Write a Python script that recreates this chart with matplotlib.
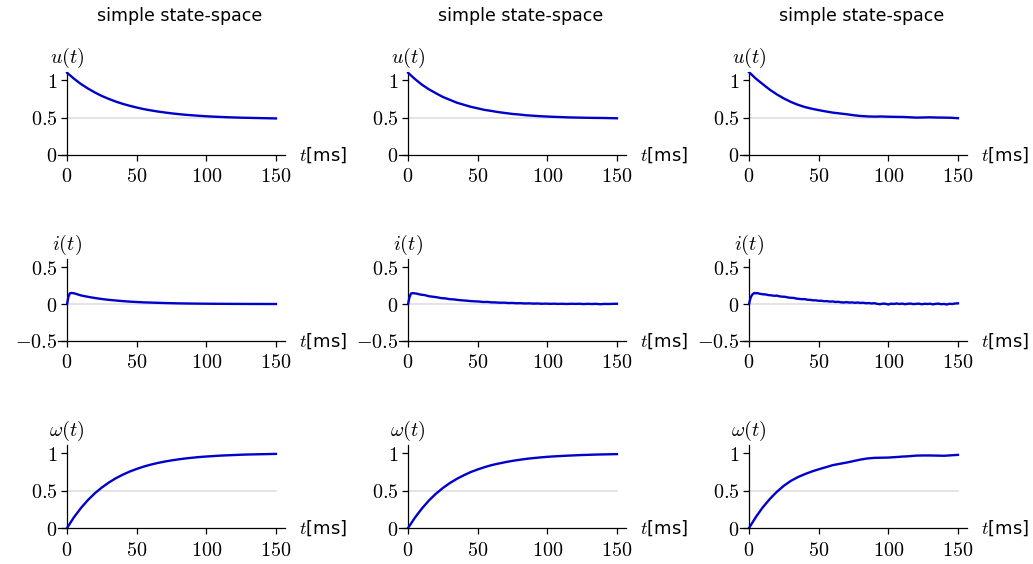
import numpy as np
import matplotlib
matplotlib.use("Agg")
import matplotlib.pyplot as plt

plt.rcParams['mathtext.fontset'] = 'cm'
plt.rcParams['font.family'] = ['DejaVu Sans']

# time grids (ms)
t5 = np.arange(0, 151, 5)
t_i1 = [0, 1, 2, 3, 5, 10, 15, 20, 25, 30, 35, 40, 45, 50, 55, 60,
        70, 80, 90, 100, 110, 120, 130, 140, 150]
t_i2 = [0, 1, 2] + list(range(3, 151, 3))
t_i3 = [0, 1, 2, 3, 4, 5, 6] + list(range(8, 151, 2))

# column 1 (smooth)
u1 = [1.10, 1.02, 0.949, 0.889, 0.836, 0.789, 0.750, 0.714, 0.684, 0.658,
      0.635, 0.614, 0.597, 0.582, 0.569, 0.557, 0.547, 0.538, 0.531, 0.524,
      0.518, 0.513, 0.509, 0.505, 0.502, 0.499, 0.497, 0.495, 0.493, 0.491, 0.489]
i1 = [0.0, 0.10, 0.145, 0.15, 0.146, 0.117, 0.098, 0.082, 0.068, 0.057,
      0.048, 0.040, 0.033, 0.028, 0.023, 0.020, 0.014, 0.0095, 0.0067,
      0.0047, 0.0033, 0.0023, 0.0016, 0.0011, 0.0008]
w1 = [0.0, 0.145, 0.268, 0.374, 0.465, 0.542, 0.608, 0.665, 0.713, 0.755,
      0.790, 0.821, 0.847, 0.869, 0.888, 0.904, 0.918, 0.930, 0.940, 0.949,
      0.956, 0.962, 0.968, 0.972, 0.976, 0.980, 0.983, 0.985, 0.987, 0.989, 0.991]

# column 2 (light noise)
u2 = [1.10, 1.015, 0.94, 0.878, 0.826, 0.776, 0.738, 0.700, 0.672, 0.645,
      0.624, 0.603, 0.589, 0.573, 0.561, 0.549, 0.541, 0.531, 0.525, 0.519,
      0.514, 0.510, 0.507, 0.503, 0.501, 0.499, 0.497, 0.496, 0.495, 0.493, 0.491]
i2 = [0.0, 0.09, 0.14,
      0.148, 0.142, 0.128, 0.121, 0.106, 0.099, 0.091, 0.080, 0.076, 0.066,
      0.063, 0.055, 0.050, 0.046, 0.040, 0.037, 0.034, 0.028, 0.029, 0.023,
      0.022, 0.018, 0.019, 0.014, 0.015, 0.011, 0.012, 0.008, 0.010, 0.006,
      0.008, 0.004, 0.006, 0.003, 0.005, 0.002, 0.004, 0.001, 0.004, 0.002,
      0.004, 0.000, 0.003, 0.001, 0.003, -0.002, 0.002, 0.001, 0.003, 0.004]
w2 = [0.0, 0.14, 0.262, 0.368, 0.458, 0.535, 0.601, 0.657, 0.705, 0.748,
      0.783, 0.814, 0.841, 0.862, 0.881, 0.898, 0.912, 0.925, 0.935, 0.944,
      0.952, 0.958, 0.963, 0.968, 0.972, 0.976, 0.979, 0.982, 0.984, 0.986, 0.988]

# column 3 (noisy)
u3 = [1.107, 1.02, 0.945, 0.872, 0.81, 0.756, 0.71, 0.672, 0.642, 0.619,
      0.600, 0.583, 0.567, 0.556, 0.545, 0.532, 0.522, 0.516, 0.513, 0.515,
      0.512, 0.510, 0.509, 0.505, 0.500, 0.502, 0.504, 0.501, 0.500, 0.498, 0.492]
i3 = [0.0, 0.08, 0.12, 0.14, 0.15, 0.145, 0.148,
      0.138, 0.132, 0.130, 0.121, 0.118, 0.112, 0.114, 0.104, 0.100, 0.098,
      0.089, 0.085, 0.083, 0.074, 0.070, 0.066, 0.067, 0.058, 0.057, 0.050,
      0.051, 0.044, 0.045, 0.038, 0.040, 0.033, 0.036, 0.028, 0.031, 0.024,
      0.021, 0.026, 0.020, 0.023, 0.017, 0.021, 0.015, 0.018, 0.011, 0.014,
      0.008, 0.012, 0.003, -0.002, 0.006, 0.004, -0.006, 0.005, 0.002, 0.008,
      0.001, 0.006, -0.002, 0.004, 0.007, -0.001, 0.003, 0.006, -0.003, 0.004,
      0.001, 0.005, -0.004, 0.003, 0.006, -0.002, 0.002, -0.006, 0.004, 0.001,
      0.008, 0.010]
w3 = [0.0, 0.15, 0.28, 0.39, 0.485, 0.565, 0.63, 0.68, 0.72, 0.755,
      0.785, 0.812, 0.84, 0.858, 0.875, 0.895, 0.915, 0.93, 0.938, 0.94,
      0.942, 0.948, 0.955, 0.96, 0.968, 0.97, 0.97, 0.968, 0.966, 0.972, 0.978]

columns = [
    [(t5, u1), (t_i1, i1), (t5, w1)],
    [(t5, u2), (t_i2, i2), (t5, w2)],
    [(t5, u3), (t_i3, i3), (t5, w3)],
]
ylabels = [r'$u(t)$', r'$i(t)$', r'$\omega(t)$']
ylims = [(0, 1.11), (-0.5, 0.61), (0, 1.11)]
yticks = [[0, 0.5, 1], [-0.5, 0, 0.5], [0, 0.5, 1]]
yticklabels = [['$0$', '$0.5$', '$1$'], ['$-0.5$', '$0$', '$0.5$'], ['$0$', '$0.5$', '$1$']]
refs = [0.5, 0.0, 0.5]
xticks = [0, 50, 100, 150]

W, H = 1033, 564
fig = plt.figure(figsize=(W / 100, H / 100), dpi=100)

col_left = [58, 399, 740]
row_bottom = [155, 341, 528]
row_height = [83, 82, 83]
ax_w = 227

blue = '#0000cc'
fs = 14.5

for c in range(3):
    for r in range(3):
        ax = fig.add_axes([col_left[c] / W, (H - row_bottom[r]) / H,
                           ax_w / W, row_height[r] / H])
        t, y = columns[c][r]
        ax.plot([0, 150], [refs[r], refs[r]], color='#dddddd', lw=1.1, zorder=1)
        ax.plot(t, y, color=blue, lw=1.7, zorder=3)
        ax.set_xlim(-6.5, 156.5)
        ax.set_ylim(*ylims[r])
        ax.spines['top'].set_visible(False)
        ax.spines['right'].set_visible(False)
        ax.spines['left'].set_position(('data', 0))
        for s in ['left', 'bottom']:
            ax.spines[s].set_linewidth(0.9)
        ax.set_xticks(xticks)
        ax.set_xticklabels(['$%d$' % v for v in xticks], fontsize=fs)
        ax.set_yticks(yticks[r])
        ax.set_yticklabels(yticklabels[r], fontsize=fs)
        ax.tick_params(direction='out', length=4, width=0.9)
        ax.tick_params(axis='x', pad=5)
        ax.tick_params(axis='y', pad=3)
        ax.patch.set_visible(False)
        ax.text(0, ylims[r][1] + 0.03, ylabels[r], ha='center', va='bottom',
                fontsize=fs)
        ax.annotate(r'$t$[ms]', xy=(1, 0), xycoords='axes fraction',
                    xytext=(10, 0), textcoords='offset points',
                    ha='left', va='center', fontsize=13)
        if r == 0:
            fig.text((col_left[c] + ax_w / 2 + 8) / W, 1 - 16 / H,
                     'simple state-space', ha='center', va='center', fontsize=12.5)

fig.savefig('out.png', dpi=100)
